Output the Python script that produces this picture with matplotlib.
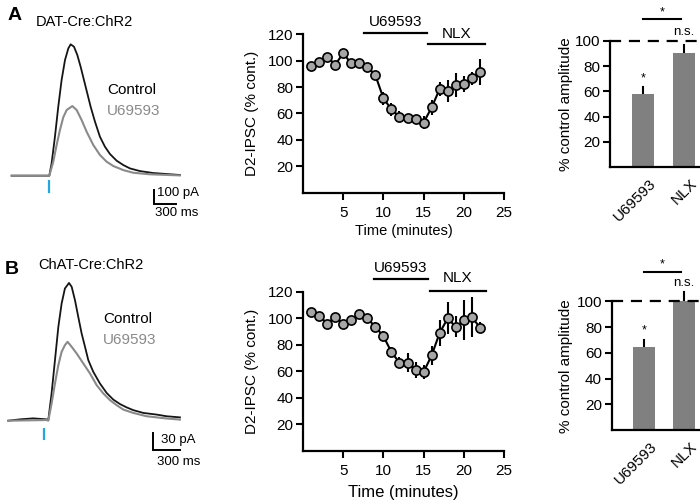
import matplotlib
matplotlib.use("Agg")
import matplotlib.pyplot as plt
import numpy as np

plt.rcParams['font.family'] = ['Liberation Sans', 'DejaVu Sans']

W, H = 700, 504

# ---------------- data ----------------
# Panel A traces (time in ms from stimulus, amplitude in pA)
traceA_ctrl_t = [-520, 0, 32, 78, 124, 170, 217, 263, 295, 341, 387, 433, 479, 525, 571, 631, 700, 769, 838, 931, 1023, 1115, 1253, 1437, 1622, 1806]
traceA_ctrl_a = [0, 0, 88, 278, 493, 683, 826, 909, 938, 921, 862, 778, 683, 588, 493, 386, 278, 207, 155, 107, 76, 52, 33, 19, 12, 5]
traceA_drug_t = [-520, 0, 55, 101, 147, 193, 240, 318, 378, 447, 516, 608, 700, 792, 885, 1023, 1161, 1391, 1806]
traceA_drug_a = [0, 0, 100, 219, 326, 417, 469, 497, 469, 397, 314, 219, 148, 100, 69, 40, 21, 10, 2]

# Panel B traces
traceB_ctrl_t = [-405, -274, -124, 26, 45, 82, 120, 158, 195, 232, 278, 308, 345, 382, 420, 458, 495, 551, 626, 701, 776, 851, 926, 1001, 1114, 1264, 1376, 1526]
traceB_ctrl_a = [0, 2.4, 4.2, 2.4, 1.2, 49, 109, 169, 211, 238, 248, 241, 217, 187, 157, 133, 109, 88, 67, 50, 38, 30, 24, 19, 14, 11, 8, 6]
traceB_drug_t = [-405, 26, 45, 82, 120, 158, 195, 232, 262, 308, 364, 439, 514, 589, 664, 739, 814, 889, 1001, 1151, 1376, 1526]
traceB_drug_a = [0, 1.2, 0, 31, 67, 100, 124, 136, 142, 133, 121, 103, 85, 64, 49, 37, 28, 20, 14, 8, 4, 2]

# Time courses
time_min = list(range(1, 23))
ipscA = [96, 99, 103, 97, 105.5, 98, 98.5, 95.5, 89, 71.5, 63, 57.5, 56.5, 56, 53, 64.5, 78.5, 77, 81.5, 82, 86.5, 91.5]
ipscA_err = [2, 2, 2, 2, 2, 2, 2, 3, 3, 5, 5, 4, 3, 3, 5, 6, 5, 8, 9, 6, 5, 10]
ipscB = [104.5, 102, 96, 101, 96, 99, 103, 100, 93.5, 86.5, 74.5, 66.5, 66.5, 61, 59.5, 72, 89, 100, 93.5, 98.5, 101, 93]
ipscB_err = [2, 2, 2, 2, 2, 2, 2, 2, 4, 4, 4, 4, 7, 6, 5, 7, 10, 12, 8, 15, 15, 4]

drugA_span = (7.6, 15.4)
nlxA_span = (15.6, 22.65)
drugB_span = (8.8, 15.6)
nlxB_span = (15.8, 22.7)

bar_labels = ['U69593', 'NLX']
barA_vals = [57.8, 90.8]
barA_err = [6.0, 6.0]
barB_vals = [64.2, 100.3]
barB_err = [5.7, 7.3]

# ---------------- helpers ----------------
fig = plt.figure(figsize=(W / 100, H / 100), dpi=100)


def ax_px(l, t, r, b):
    return fig.add_axes([l / W, 1 - b / H, (r - l) / W, (b - t) / H])


def fpx(x, y):
    return x / W, 1 - y / H


GRAY_TR = '#8a8a8a'
BLUE = '#22a7e0'
FS = 11


def trace_panel(l, t, r, b, x_stim, y_base, ms_per_px, pa_per_px,
                ctrl, drug, stim_px, sb_corner, sb_pa, sb_ms, sb_lab_pa, sb_lab_ms):
    ax = ax_px(l, t, r, b)
    ax.set_xlim((l - x_stim) * ms_per_px, (r - x_stim) * ms_per_px)
    ax.set_ylim((y_base - b) * pa_per_px, (y_base - t) * pa_per_px)
    ax.axis('off')
    ax.plot(ctrl[0], ctrl[1], color='#151515', lw=1.3, solid_joinstyle='round')
    ax.plot(drug[0], drug[1], color=GRAY_TR, lw=1.5, solid_joinstyle='round')
    ax.plot([0, 0], [(y_base - stim_px[0]) * pa_per_px, (y_base - stim_px[1]) * pa_per_px],
            color=BLUE, lw=1.6, solid_capstyle='butt')
    cx = (sb_corner[0] - x_stim) * ms_per_px
    cy = (y_base - sb_corner[1]) * pa_per_px
    ax.plot([cx, cx, cx + sb_ms], [cy + sb_pa, cy, cy], color='black', lw=1.4,
            solid_joinstyle='miter')
    fig.text(*fpx(*sb_lab_pa), f'{sb_pa} pA', fontsize=9.5, ha='left', va='center')
    fig.text(*fpx(*sb_lab_ms), f'{sb_ms} ms', fontsize=9.5, ha='center', va='center')
    return ax


def time_panel(l, r, y0_px, y120_px, top_px, values, errs, drug_span, nlx_span,
               drug_line_y, nlx_line_y, drug_txt_y, nlx_txt_y, xlabel_fs, xlabelpad):
    ppu = (y0_px - y120_px) / 120.0
    ax = ax_px(l, top_px, r, y0_px)
    ax.set_xlim(0, 25)
    ytop = (y0_px - top_px) / ppu
    ax.set_ylim(0, ytop)
    for s in ['top', 'right']:
        ax.spines[s].set_visible(False)
    for s in ['left', 'bottom']:
        ax.spines[s].set_linewidth(1.6)
    ax.spines['left'].set_bounds(0, 120)
    ax.set_yticks([20, 40, 60, 80, 100, 120])
    ax.set_xticks([5, 10, 15, 20, 25])
    ax.tick_params(axis='y', direction='out', length=5, width=1.5, labelsize=FS, pad=2)
    ax.tick_params(axis='x', direction='out', length=5, width=1.5, labelsize=FS, pad=4.5)
    ax.errorbar(time_min, values, yerr=errs, fmt='none', ecolor='black', elinewidth=1.5,
                capsize=0, zorder=2)
    ax.plot(time_min, values, color='black', lw=1.5, marker='o', markersize=6.6,
            markerfacecolor='#a6a6a6', markeredgecolor='black', markeredgewidth=1.2, zorder=3)
    ax.plot(drug_span, [drug_line_y] * 2, color='black', lw=1.6, clip_on=False)
    ax.plot(nlx_span, [nlx_line_y] * 2, color='black', lw=1.6, clip_on=False)
    ax.text(np.mean(drug_span), drug_txt_y, 'U69593', ha='center', va='center', fontsize=FS)
    ax.text(np.mean(nlx_span), nlx_txt_y, 'NLX', ha='center', va='center', fontsize=FS)
    ax.set_ylabel('D2-IPSC (% cont.)', fontsize=FS)
    ax.yaxis.set_label_coords((259 - l) / (r - l), 60 / ytop)
    ax.set_xlabel('Time (minutes)', fontsize=xlabel_fs, labelpad=xlabelpad)
    return ax


def bar_panel(l, r, y0_px, y100_px, top_px, vals, errs, star_y, ns_y, brk_y, brk_star_y):
    ppu = (y0_px - y100_px) / 100.0
    ax = ax_px(l, top_px, r, y0_px)
    ax.set_xlim(-0.8, 1.39)
    ytop = (y0_px - top_px) / ppu
    ax.set_ylim(0, ytop)
    for s in ['top', 'right']:
        ax.spines[s].set_visible(False)
    for s in ['left', 'bottom']:
        ax.spines[s].set_linewidth(1.6)
    ax.spines['left'].set_bounds(0, 100)
    ax.set_yticks([20, 40, 60, 80, 100])
    x = np.arange(len(vals))
    ax.bar(x, vals, width=0.55, color='#808080', zorder=2)
    for xi, v, e in zip(x, vals, errs):
        ax.plot([xi, xi], [v, v + e], color='black', lw=1.5, zorder=1, clip_on=False)
    ax.axhline(100, color='black', lw=1.6, dashes=(5, 3.5), zorder=3)
    ax.set_xticks(x + 0.15)
    ax.set_xticklabels(bar_labels, rotation=45, ha='right', rotation_mode='anchor', fontsize=FS)
    ax.tick_params(axis='x', length=0, pad=7)
    ax.tick_params(axis='y', direction='out', length=5, width=1.5, labelsize=FS, pad=2)
    ax.set_ylabel('% control amplitude', fontsize=FS)
    ax.yaxis.set_label_coords((573 - l) / (r - l), 50 / ytop)
    ax.text(0, star_y, '*', ha='center', va='center', fontsize=9)
    ax.text(1, ns_y, 'n.s.', ha='center', va='center', fontsize=9.5)
    ax.plot([0, 0.92], [brk_y, brk_y], color='black', lw=1.5, clip_on=False)
    ax.text(0.46, brk_star_y, '*', ha='center', va='center', fontsize=9)
    return ax


# ---------------- panel A ----------------
trace_panel(0, 25, 210, 225, 49.3, 175.7, 13.82, 7.14,
            (traceA_ctrl_t, traceA_ctrl_a), (traceA_drug_t, traceA_drug_a),
            (180, 193), (154, 204), 100, 300, (157, 193), (177, 213))
fig.text(*fpx(107, 90), 'Control', fontsize=FS, ha='left', va='center', color='black')
fig.text(*fpx(107, 111), 'U69593', fontsize=FS, ha='left', va='center', color=GRAY_TR)
fig.text(*fpx(84, 22), 'DAT-Cre:ChR2', fontsize=10.5, ha='center', va='center')
fig.text(*fpx(15, 15), 'A', fontsize=14, fontweight='bold', ha='center', va='center')

time_panel(303, 504, 192.5, 34.3, 8, ipscA, ipscA_err, drugA_span, nlxA_span,
           120.7, 112.3, 129.5, 120.5, 10.5, 3)
bar_panel(610, 700, 167, 41, 5, barA_vals, barA_err, 70, 107, 117.2, 122.5)

# ---------------- panel B ----------------
trace_panel(0, 265, 210, 470, 44.3, 420.7, 11.25, 1.8,
            (traceB_ctrl_t, traceB_ctrl_a), (traceB_drug_t, traceB_drug_a),
            (428, 440), (153.3, 450), 30, 300, (161, 440), (179, 462))
fig.text(*fpx(103, 319), 'Control', fontsize=FS, ha='left', va='center', color='black')
fig.text(*fpx(103, 340), 'U69593', fontsize=FS, ha='left', va='center', color=GRAY_TR)
fig.text(*fpx(91, 265), 'ChAT-Cre:ChR2', fontsize=10.5, ha='center', va='center')
fig.text(*fpx(12, 270), 'B', fontsize=14, fontweight='bold', ha='center', va='center')

time_panel(303, 504, 451, 291.7, 255, ipscB, ipscB_err, drugB_span, nlxB_span,
           129.5, 120.4, 138, 130, 12, 5)
bar_panel(611.7, 700, 430, 301.3, 255, barB_vals, barB_err, 77, 114.6, 123.1, 128.4)

fig.savefig('out.png', dpi=100)
